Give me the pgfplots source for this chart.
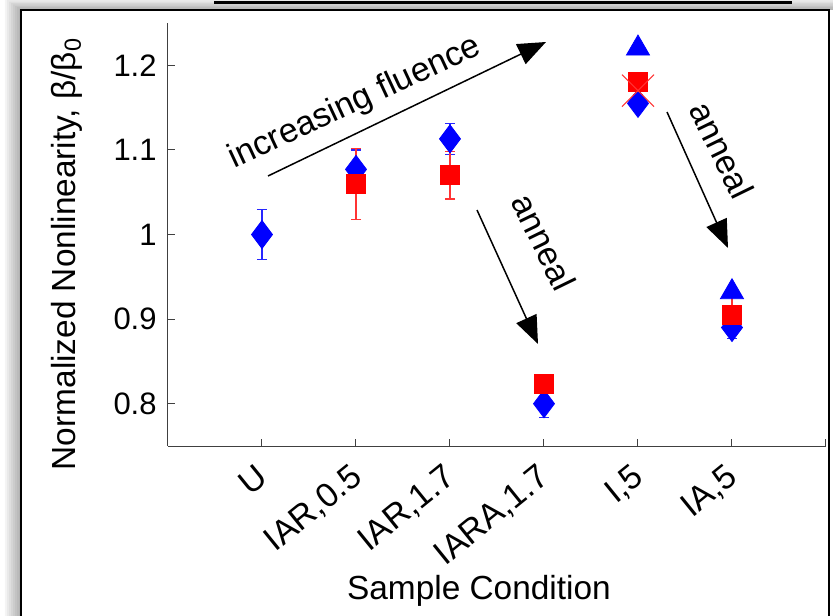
\documentclass[border=0pt]{standalone}
\usepackage{fontspec}
\setmainfont{Liberation Sans}
\usepackage{pgfplots}
\pgfplotsset{compat=1.18}
\usetikzlibrary{arrows.meta}

\begin{document}
\begin{tikzpicture}
% 1px of the reference = 0.5pt, origin at the lower left corner of the axis
\path[use as bounding box] (-84pt,-84.5pt) rectangle (332.5pt,223pt);
% frame with soft shadow
\foreach \i in {1,...,8}{
  \fill[black, opacity=0.045] (-73.5pt-\i pt,-95pt) -- (-73.5pt-\i pt,218pt+0.7*\i pt) -- (336pt,218pt+0.7*\i pt)
    -- (336pt,218pt) -- (-73.5pt,218pt) -- (-73.5pt,-95pt) -- cycle;
}
\draw[line width=1.3pt] (-73.5pt,-95pt) -- (-73.5pt,218pt) -- (330.5pt,218pt) -- (330.5pt,-95pt);
\draw[line width=1.6pt] (23pt,221.6pt) -- (312pt,221.6pt);

\begin{axis}[
  at={(0pt,0pt)}, anchor=south west,
  scale only axis, width=329pt, height=211.5pt,
  xmin=0, xmax=7, ymin=0.75, ymax=1.25,
  axis x line*=bottom, axis y line*=left,
  axis line style={-, black!75, line width=0.5pt},
  tick align=inside, major tick length=3.4pt,
  tick style={black!75, line width=0.5pt},
  xtick={1,...,7},
  xticklabels={U,{IAR,0.5},{IAR,1.7},{IARA,1.7},{I,5},{IA,5},{}},
  ytick={0.8,0.9,1,1.1,1.2},
  yticklabels={0.8,0.9,1,1.1,1.2},
  tick label style={font=\fontsize{15.5}{18}\selectfont},
  xticklabel style={font=\fontsize{17}{20}\selectfont, yshift=-8pt, xshift=-3.5pt, rotate=39, anchor=north east, inner sep=0pt},
  yticklabel style={inner sep=0pt, xshift=-5.5pt},
  xlabel={Sample Condition},
  xlabel style={at={(axis description cs:0.4726,-0.343)}, anchor=center, font=\fontsize{16.7}{20}\selectfont},
  ylabel={Normalized Nonlinearity, β/β\textsubscript{0}},
  ylabel style={at={(axis description cs:-0.1535,0.454)}, anchor=center, font=\fontsize{16.7}{20}\selectfont},
  clip=false,
]
% blue diamonds
\addplot[only marks, blue, mark=diamond*, mark size=7pt, mark options={fill=blue, draw=blue},
  error bars/.cd, y dir=both, y explicit,
  error bar style={blue!85, line width=0.6pt},
  error mark options={rotate=90, blue!85, mark size=2.6pt, line width=0.6pt}]
  coordinates {
  (1,1.000) +- (0,0.030)
  (2,1.077) +- (0,0.023)
  (3,1.113) +- (0,0.018)
  (4,0.800) +- (0,0.016)
  (5,1.155) +- (0,0.010)
  (6,0.890) +- (0,0.013)
  };
% red squares
\addplot[only marks, red, mark=square*, mark size=4.75pt, mark options={fill=red, draw=red},
  error bars/.cd, y dir=both, y explicit,
  error bar style={red!80, line width=0.6pt},
  error mark options={rotate=90, red!80, mark size=2.6pt, line width=0.6pt}]
  coordinates {
  (2,1.060) +- (0,0.042)
  (3,1.070) +- (0,0.028)
  (4,0.824) +- (0,0.005)
  (5,1.180) +- (0,0.000)
  (6,0.905) +- (0,0.024)
  };
% blue triangles
\addplot[only marks, blue, mark=triangle*, mark size=6.67pt, mark options={fill=blue, draw=blue}]
  coordinates {(5,1.220) (6,0.932)};
% red cross
\addplot[only marks, red!80, mark=x, mark size=11.3pt, mark options={line width=0.5pt},
  error bars/.cd, y dir=both, y explicit,
  error bar style={red!80, line width=0.6pt},
  error mark options={rotate=90, red!80, mark size=2.6pt, line width=0.6pt}]
  coordinates {(5,1.170) +- (0,0.017)};
\end{axis}

% annotations
\draw[line width=0.75pt, -{Triangle[length=14pt,width=11pt]}] (50pt,135pt) -- (189pt,202pt);
\node[rotate=25, font=\fontsize{17}{20}\selectfont] at (93.5pt,171.5pt) {increasing fluence};
\draw[line width=0.75pt, -{Triangle[length=14pt,width=11pt]}] (154.5pt,118pt) -- (185pt,51pt);
\node[rotate=-64, font=\fontsize{17}{20}\selectfont] at (188pt,102pt) {anneal};
\draw[line width=0.75pt, -{Triangle[length=14pt,width=11pt]}] (249.5pt,167pt) -- (280pt,99pt);
\node[rotate=-64, font=\fontsize{17}{20}\selectfont] at (277pt,148pt) {anneal};
\end{tikzpicture}
\end{document}
